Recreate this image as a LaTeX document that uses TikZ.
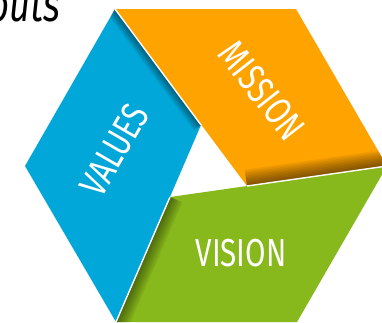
\documentclass[tikz,border=0pt]{standalone}
\usepackage{fontspec}
\setmainfont{Fira Sans}[FakeStretch=0.76]
\usepackage{tikz}
\usetikzlibrary{positioning}
\usepackage{xcolor}
\definecolor{valblue}{RGB}{1,167,216}
\definecolor{misorange}{RGB}{254,163,0}
\definecolor{visgreen}{RGB}{135,184,28}

\begin{document}
\begin{tikzpicture}[
  x=1pt, y=-1pt,
  lbl/.style={text=white, font=\fontsize{39}{39}\selectfont, inner sep=0pt},
  seam/.style={white, line width=1.4pt},
  shade/.style={black, opacity=0.055, line width=#1}
]
\useasboundingbox (0,0) rectangle (382,322);
\clip (0,0) rectangle (382,322);
% hexagon corners and inner corners
\coordinate (tl) at (115,9);
\coordinate (tr) at (296,9);
\coordinate (r) at (387,166);
\coordinate (br) at (297,322);
\coordinate (bl) at (116,322);
\coordinate (l) at (25,166);
\coordinate (ca) at (201,125);
\coordinate (cb) at (247,186);
\coordinate (cc) at (170,197);
% pieces
\fill[valblue] (tl) -- (ca) -- (bl) -- (l) -- cycle;
\fill[misorange] (tl) -- (tr) -- (r) -- (cb) -- cycle;
\fill[visgreen] (cc) -- (r) -- (br) -- (bl) -- cycle;
% shadows where one piece lies over the next
\begin{scope}
  \clip (tl) -- (ca) -- (bl) -- (l) -- cycle;
  \foreach \w in {2,4,...,18} \draw[shade=\w pt] (tl) -- (ca);
\end{scope}
\begin{scope}
  \clip (tl) -- (tr) -- (r) -- (cb) -- cycle;
  \foreach \w in {3,6,...,33} \draw[shade=\w pt] (cb) -- (r);
\end{scope}
\begin{scope}
  \clip (cc) -- (r) -- (br) -- (bl) -- cycle;
  \foreach \w in {3,6,...,27} \draw[shade=\w pt] (cc) -- (bl);
\end{scope}
\draw[seam] (tl) -- (ca);
\draw[seam] (cb) -- (r);
\draw[seam] (cc) -- (bl);
% labels
\node[lbl, rotate=60] (values) at (114,150) {VALUES};
\node[lbl, rotate=-52] (mission) at (262,91) {MISSION};
\node[lbl] (vision) at (241,253) {VISION};
\node[anchor=base west, inner sep=0pt, font=\fontsize{48}{48}\selectfont\itshape] (head) at (-12,21) {outs};
\end{tikzpicture}
\end{document}
